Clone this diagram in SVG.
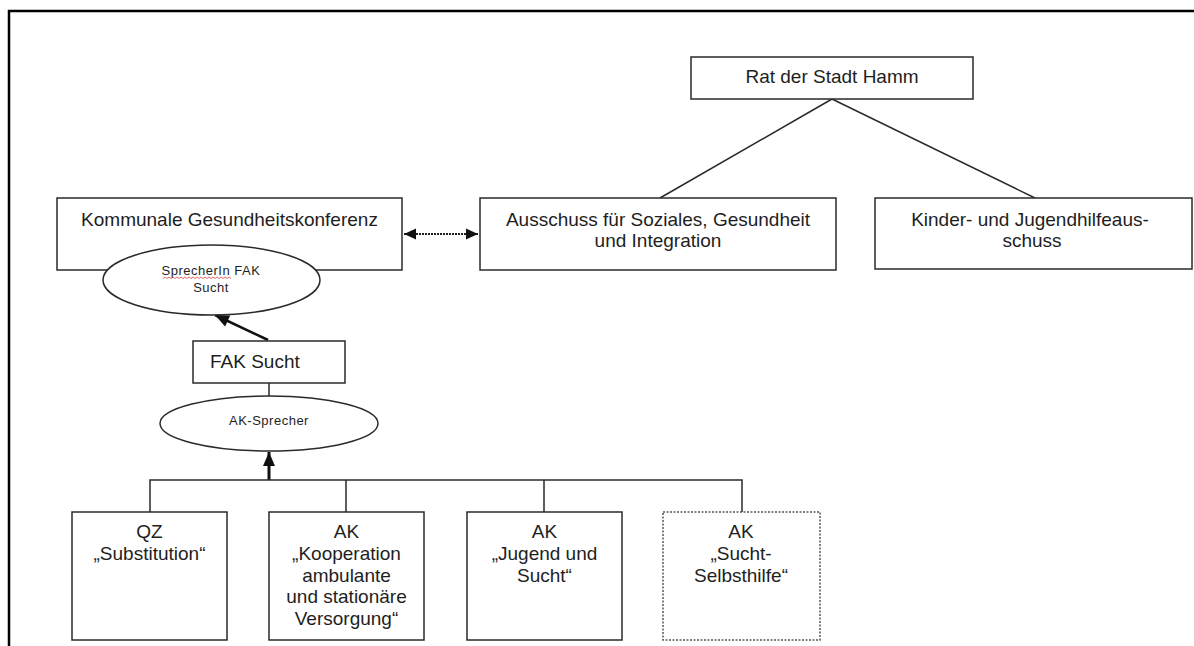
<svg xmlns="http://www.w3.org/2000/svg" width="1194" height="646" viewBox="0 0 1194 646">
<style>
.bx{fill:#fff;stroke:#2a2a2a;stroke-width:1.5}
.dot{fill:#fff;stroke:#555;stroke-width:1.5;stroke-dasharray:2 1.5}
.el{fill:#fff;stroke:#2a2a2a;stroke-width:1.5}
.t{font-family:"Liberation Sans",Arial,sans-serif;font-size:19px;fill:#1e1e1e;text-anchor:middle}
.s{font-family:"Liberation Sans",Arial,sans-serif;font-size:13px;fill:#1e1e1e;text-anchor:middle;letter-spacing:0.5px}
.ln{stroke:#2a2a2a;stroke-width:1.5;fill:none}
</style>
<defs>
<marker id="ah" markerUnits="userSpaceOnUse" markerWidth="16" markerHeight="16" viewBox="0 0 16 16" refX="15" refY="8" orient="auto-start-reverse">
<path d="M1,2 L15,8 L1,14 Z" fill="#111"/>
</marker>
<marker id="ad" markerUnits="userSpaceOnUse" markerWidth="14" markerHeight="14" viewBox="0 0 14 14" refX="13" refY="7" orient="auto-start-reverse">
<path d="M1,1.5 L13,7 L1,12.5 Z" fill="#111"/>
</marker>
</defs>
<rect width="1194" height="646" fill="#fff"/>
<path d="M9,646 V11 H1194" fill="none" stroke="#000" stroke-width="2.5"/>

<g id="connectors">
<line class="ln" x1="832" y1="99" x2="660" y2="198"/>
<line class="ln" x1="832" y1="99" x2="1035" y2="198"/>
<line x1="404" y1="234" x2="478" y2="234" stroke="#222" stroke-width="2" stroke-dasharray="2 1" marker-start="url(#ad)" marker-end="url(#ad)"/>
<line x1="268" y1="340" x2="215" y2="315" stroke="#111" stroke-width="2.5" marker-end="url(#ah)"/>
<line class="ln" x1="269" y1="383" x2="269" y2="397"/>
<line x1="269" y1="480" x2="269" y2="452" stroke="#111" stroke-width="3" marker-end="url(#ah)"/>
<path class="ln" d="M150,512 V480 H742 V512 M346,480 V512 M544,480 V512"/>
</g>

<g id="rat">
<rect class="bx" x="691" y="57" width="282" height="42"/>
<text class="t" x="832" y="83">Rat der Stadt Hamm</text>
</g>

<g id="kgk">
<rect class="bx" x="57" y="198" width="345" height="72"/>
<text class="t" x="229.5" y="226">Kommunale Gesundheitskonferenz</text>
</g>

<g id="sprecherin">
<ellipse class="el" cx="211.5" cy="280" rx="108.5" ry="35"/>
<text class="s" x="211" y="275">SprecherIn FAK</text>
<text class="s" x="211" y="292">Sucht</text>
<path d="M163,278.5 l2,-1.5 l2,1.5 l2,-1.5 l2,1.5 l2,-1.5 l2,1.5 l2,-1.5 l2,1.5 l2,-1.5 l2,1.5 l2,-1.5 l2,1.5 l2,-1.5 l2,1.5 l2,-1.5 l2,1.5 l2,-1.5 l2,1.5 l2,-1.5 l2,1.5 l2,-1.5 l2,1.5 l2,-1.5 l2,1.5 l2,-1.5 l2,1.5 l2,-1.5 l2,1.5 l2,-1.5 l2,1.5 l2,-1.5 l2,1.5 l2,-1.5 l2,1.5" fill="none" stroke="#d44" stroke-width="0.8"/>
</g>

<g id="ausschuss">
<rect class="bx" x="480" y="198" width="356" height="72"/>
<text class="t" x="658" y="226">Ausschuss für Soziales, Gesundheit</text>
<text class="t" x="658" y="247">und Integration</text>
</g>

<g id="kinder">
<rect class="bx" x="875" y="198" width="317" height="71"/>
<text class="t" x="1030" y="226">Kinder- und Jugendhilfeaus-</text>
<text class="t" x="1032" y="247">schuss</text>
</g>

<g id="faksucht">
<rect class="bx" x="193" y="341" width="152" height="42"/>
<text class="t" x="210" y="368" style="text-anchor:start">FAK Sucht</text>
</g>

<g id="aksprecher">
<ellipse class="el" cx="269" cy="423.5" rx="109" ry="27.5"/>
<text class="s" x="269" y="425">AK-Sprecher</text>
</g>

<g id="qz">
<rect class="bx" x="72" y="512" width="155" height="128"/>
<text class="t" x="149.5" y="538">QZ</text>
<text class="t" x="149.5" y="560">„Substitution“</text>
</g>

<g id="kooperation">
<rect class="bx" x="269" y="512" width="155" height="128"/>
<text class="t" x="346.5" y="538">AK</text>
<text class="t" x="346.5" y="560">„Kooperation</text>
<text class="t" x="346.5" y="582">ambulante</text>
<text class="t" x="346.5" y="603">und stationäre</text>
<text class="t" x="346.5" y="625">Versorgung“</text>
</g>

<g id="jugend">
<rect class="bx" x="467" y="512" width="155" height="128"/>
<text class="t" x="544.5" y="538">AK</text>
<text class="t" x="544.5" y="560">„Jugend und</text>
<text class="t" x="544.5" y="582">Sucht“</text>
</g>

<g id="selbsthilfe">
<rect class="dot" x="663" y="512" width="157" height="128"/>
<text class="t" x="741" y="538">AK</text>
<text class="t" x="741" y="560">„Sucht-</text>
<text class="t" x="741" y="582">Selbsthilfe“</text>
</g>
</svg>
